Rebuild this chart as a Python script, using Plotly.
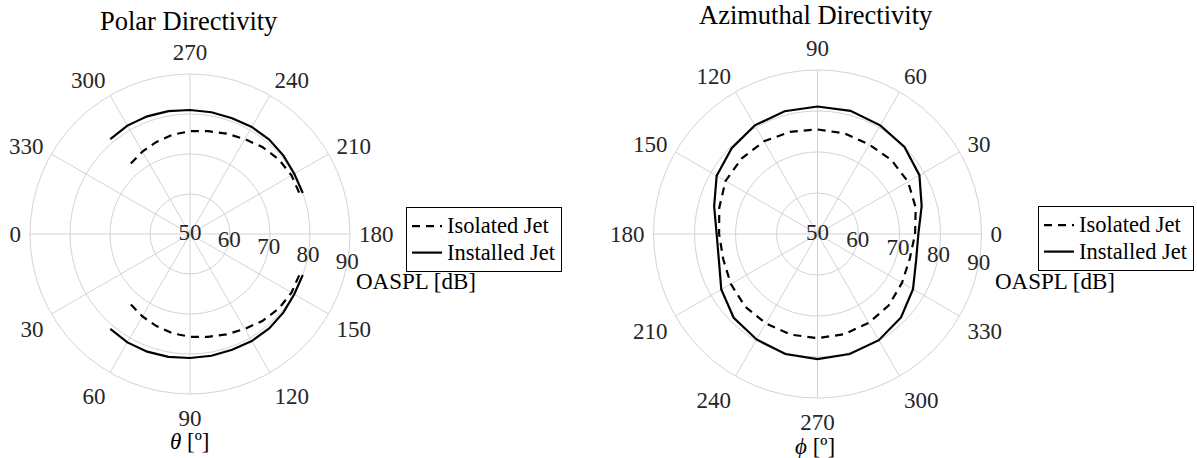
import plotly.graph_objects as go

# ---------------- data ----------------
# Polar directivity (theta in degrees, OASPL in dB), lower half; upper half is the mirror 360-theta
POLAR_THETA = [50, 60, 70, 80, 90, 100, 110, 120, 130, 140, 150, 160]
POLAR_ISOLATED = [73.0, 73.8, 74.5, 75.2, 75.7, 76.1, 76.7, 77.4, 78.3, 79.0, 79.3, 79.2]
POLAR_INSTALLED = [81.0, 81.3, 81.3, 81.2, 81.0, 80.9, 80.8, 80.9, 80.8, 80.5, 80.1, 80.0]

# Azimuthal directivity (phi in degrees, OASPL in dB)
AZ_PHI = [0, 15, 30, 45, 60, 75, 90, 105, 120, 135, 150, 165,
          180, 195, 210, 225, 240, 255, 270, 285, 300, 315, 330, 345]
AZ_ISOLATED = [73.8, 74.8, 75.5, 75.5, 75.2, 75.4, 75.5, 75.8, 76.1, 76.1, 75.9, 74.8,
               74.0, 73.8, 74.4, 75.0, 75.2, 75.4, 75.4, 75.3, 75.0, 74.6, 73.8, 73.3]
AZ_INSTALLED = [74.6, 76.3, 78.7, 80.0, 80.6, 81.1, 81.1, 81.0, 80.6, 79.6, 78.4, 76.1,
                74.6, 74.9, 77.1, 78.9, 79.7, 80.3, 80.5, 80.3, 79.9, 78.8, 76.9, 74.9]

ANGULAR_TICKS = list(range(0, 360, 30))
RADIAL_TICKS = [50, 60, 70, 80, 90]
SERIES_NAMES = ["Isolated Jet", "Installed Jet"]

# ---------------- style ----------------
FONT = "Liberation Serif, Times New Roman, serif"
TICK_COLOR = "#262626"
GRID = "#d3d3d3"
W, H = 1197, 458
TICK_SIZE = 23
LEGEND_TEXT = '<span style="font-size:22.5px">{}</span>'


def mirrored(theta, vals):
    th = list(theta) + [None] + [360 - t for t in theta]
    rv = list(vals) + [None] + list(vals)
    return th, rv


fig = go.Figure()

# Left: polar directivity
th, r = mirrored(POLAR_THETA, POLAR_ISOLATED)
fig.add_trace(go.Scatterpolar(theta=th, r=r, mode="lines", name=LEGEND_TEXT.format(SERIES_NAMES[0]),
                              line=dict(color="black", width=2.2, dash="8px,6px"),
                              connectgaps=False, subplot="polar", legend="legend"))
th, r = mirrored(POLAR_THETA, POLAR_INSTALLED)
fig.add_trace(go.Scatterpolar(theta=th, r=r, mode="lines", name=LEGEND_TEXT.format(SERIES_NAMES[1]),
                              line=dict(color="black", width=2.2),
                              connectgaps=False, subplot="polar", legend="legend"))

# Right: azimuthal directivity (closed curves)
fig.add_trace(go.Scatterpolar(theta=AZ_PHI + AZ_PHI[:1], r=AZ_ISOLATED + AZ_ISOLATED[:1],
                              mode="lines", name=LEGEND_TEXT.format(SERIES_NAMES[0]),
                              line=dict(color="black", width=2.2, dash="8px,6px"),
                              subplot="polar2", legend="legend2"))
fig.add_trace(go.Scatterpolar(theta=AZ_PHI + AZ_PHI[:1], r=AZ_INSTALLED + AZ_INSTALLED[:1],
                              mode="lines", name=LEGEND_TEXT.format(SERIES_NAMES[1]),
                              line=dict(color="black", width=2.2),
                              subplot="polar2", legend="legend2"))

# Radial tick labels placed along a ray slightly below the horizontal
LABEL_SCREEN_ANGLE = -10.6
for sub, rot in (("polar", 180), ("polar2", 0)):
    fig.add_trace(go.Scatterpolar(
        theta=[LABEL_SCREEN_ANGLE - rot] * len(RADIAL_TICKS), r=RADIAL_TICKS,
        mode="text", text=[str(v) for v in RADIAL_TICKS],
        textfont=dict(family=FONT, size=TICK_SIZE, color=TICK_COLOR),
        textposition="middle center", cliponaxis=False, showlegend=False,
        hoverinfo="skip", subplot=sub))


def polar_layout(xdom, ydom, rotation):
    return dict(
        domain=dict(x=xdom, y=ydom),
        bgcolor="white",
        angularaxis=dict(rotation=rotation, direction="counterclockwise",
                         tickmode="array", tickvals=ANGULAR_TICKS,
                         ticktext=[str(v) for v in ANGULAR_TICKS],
                         ticks="outside", ticklen=4, tickcolor="rgba(0,0,0,0)",
                         showline=True, linecolor=GRID, linewidth=1,
                         gridcolor=GRID, gridwidth=1,
                         tickfont=dict(family=FONT, size=TICK_SIZE, color=TICK_COLOR)),
        radialaxis=dict(range=[RADIAL_TICKS[0], RADIAL_TICKS[-1]], tickmode="array",
                        tickvals=RADIAL_TICKS, showticklabels=False, ticks="",
                        showline=False, gridcolor=GRID, gridwidth=1),
    )


# pixel geometry -> paper fractions
def px_dom(x0, x1, y0, y1):
    return [x0 / W, x1 / W], [1 - y1 / H, 1 - y0 / H]


xd1, yd1 = px_dom(30, 350, 74, 394)
xd2, yd2 = px_dom(653.5, 981.5, 70, 398)

legend_style = dict(bgcolor="white", bordercolor="black", borderwidth=1,
                    font=dict(family=FONT, size=18, color="black"),
                    xanchor="left", yanchor="top", tracegroupgap=0,
                    itemwidth=30)

fig.update_layout(
    width=W, height=H, autosize=False,
    margin=dict(l=0, r=0, t=0, b=0),
    paper_bgcolor="white", plot_bgcolor="white",
    showlegend=True,
    polar=polar_layout(xd1, yd1, 180),
    polar2=polar_layout(xd2, yd2, 0),
    legend=dict(x=406 / W, y=1 - 207 / H, **legend_style),
    legend2=dict(x=1038 / W, y=1 - 206 / H, **legend_style),
    font=dict(family=FONT, color=TICK_COLOR),
)


def ann(text, x, y, size=TICK_SIZE, color="black"):
    fig.add_annotation(text=text, x=x / W, y=1 - y / H, xref="paper", yref="paper",
                       showarrow=False, xanchor="center", yanchor="middle",
                       font=dict(family=FONT, size=size, color=color))


ann("Polar Directivity", 189, 21, size=26.5)
ann("Azimuthal Directivity", 816, 15, size=26.5)
ann("OASPL [dB]", 416, 281)
ann("OASPL [dB]", 1055, 281)
ann("<i>θ</i> [º]", 190, 441)
ann("<i>ϕ</i> [º]", 815, 446)

# remove the default page margin so the figure sits at the window's top-left corner
fig.write_html("out.html", config={"displayModeBar": False},
               post_script="document.body.style.margin='0px';")
